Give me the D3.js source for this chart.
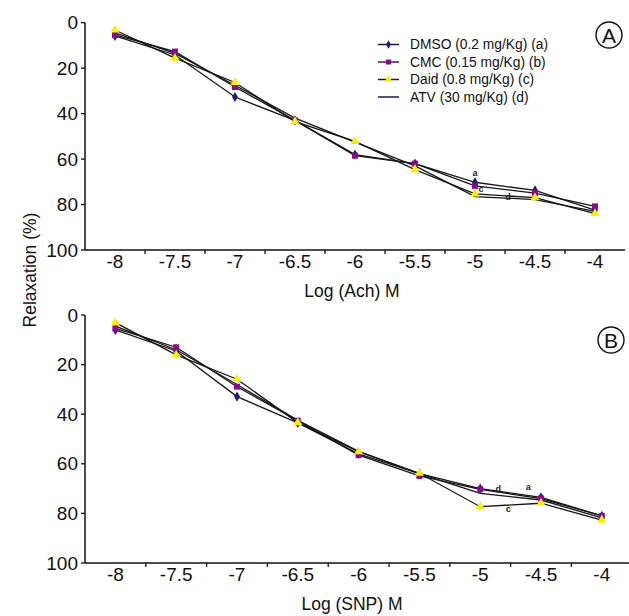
<!DOCTYPE html>
<html>
<head>
<meta charset="utf-8">
<script src="https://cdn.jsdelivr.net/npm/d3@7"></script>
<style>
  body { margin: 0; background: #fff; }
  svg { display: block; font-family: "Liberation Sans", Arial, sans-serif; }
</style>
</head>
<body>
<svg id="chart" width="629" height="616"></svg>
<script>
// log concentrations (category axis)
var doses = ["-8", "-7.5", "-7", "-6.5", "-6", "-5.5", "-5", "-4.5", "-4"];
var yTicks = [0, 20, 40, 60, 80, 100];

var seriesNames = ["DMSO (0.2 mg/Kg) (a)", "CMC (0.15 mg/Kg) (b)", "Daid (0.8 mg/Kg) (c)", "ATV (30 mg/Kg) (d)"];

// panel A - Ach
var dmsoA = [5.8, 14.2, 32.7, 43, 58, 62, 70.2, 73.8, 82.5];
var cmcA  = [5.4, 12.7, 28.3, 43, 58.5, 62, 71.8, 75, 80.8];
var daidA = [3.2, 15.6, 26.3, 43.5, 52.2, 64.6, 75.3, 77, 84];
var atvA  = [4.5, 13.5, 27.5, 42, 52.5, 63, 76.5, 77.8, 83];

// panel B - SNP
var dmsoB = [6.0, 14.5, 32.9, 43.5, 56, 64, 70, 73.5, 81];
var cmcB  = [5.4, 13.0, 28.9, 42.6, 56.5, 64.9, 70.3, 74, 81];
var daidB = [3.1, 16.1, 25.9, 43.4, 55.1, 63.8, 77.3, 75.9, 82.7];
var atvB  = [4.5, 14.0, 28, 42.5, 55, 64, 71.9, 74.6, 81.8];

// little letters next to the curves
var labelsA = [{t: "a", x: "-5", dx: 0, v: 67.5}, {t: "c", x: "-5", dx: 6, v: 74.5}, {t: "d", x: "-5", dx: 33, v: 78}];
var labelsB = [{t: "d", x: "-5", dx: 18, v: 71.5}, {t: "a", x: "-5", dx: 48, v: 70.5}, {t: "c", x: "-5", dx: 28, v: 79.5}];

var svg = d3.select("#chart");

var styles = [
  {fill: "#1c1c70", shape: d3.symbolDiamond, size: 30},
  {fill: "#8a0a8a", shape: d3.symbolSquare, size: 36},
  {fill: "#f7f000", shape: d3.symbolTriangle, size: 36},
  {fill: null}
];

function drawPanel(opts) {
  var x = d3.scaleBand().domain(doses).range([85, 85 + 9 * opts.bw]);
  var y = d3.scaleLinear().domain([0, 100]).range([opts.top, opts.bottom]);
  var g = svg.append("g");

  // y axis
  g.append("line").attr("x1", 85).attr("x2", 85)
    .attr("y1", y(0)).attr("y2", y(100))
    .attr("stroke", "#111").attr("stroke-width", 1.5);
  g.selectAll(".yt").data(yTicks).enter().append("line")
    .attr("x1", 81).attr("x2", 85)
    .attr("y1", d => y(d)).attr("y2", d => y(d))
    .attr("stroke", "#111").attr("stroke-width", 1.3);
  g.selectAll(".yl").data(yTicks).enter().append("text")
    .attr("x", 78).attr("y", d => y(d)).attr("dy", "0.35em")
    .attr("text-anchor", "end").attr("font-size", 19).attr("fill", "#111")
    .text(d => d);

  // x axis (ticks between categories)
  g.append("line").attr("x1", 85).attr("x2", x.range()[1])
    .attr("y1", y(100)).attr("y2", y(100))
    .attr("stroke", "#111").attr("stroke-width", 1.5);
  g.selectAll(".xt").data(doses.slice(1)).enter().append("line")
    .attr("x1", d => x(d)).attr("x2", d => x(d))
    .attr("y1", y(100)).attr("y2", y(100) + 4)
    .attr("stroke", "#111").attr("stroke-width", 1.3);
  g.selectAll(".xl").data(doses).enter().append("text")
    .attr("x", d => x(d) + x.bandwidth() / 2).attr("y", y(100) + 18)
    .attr("text-anchor", "middle").attr("font-size", 19).attr("fill", "#111")
    .text(d => d);

  g.append("text").attr("x", 352).attr("y", opts.titleY)
    .attr("text-anchor", "middle").attr("font-size", 17.5).attr("fill", "#111")
    .text(opts.title);

  var cx = d => x(d) + x.bandwidth() / 2;
  var line = d3.line().x((v, i) => cx(doses[i])).y(v => y(v));

  // lines, ATV first
  [3, 0, 1, 2].forEach(function(k) {
    g.append("path").datum(opts.series[k])
      .attr("d", line).attr("fill", "none")
      .attr("stroke", "#161616").attr("stroke-width", 1.3);
  });

  [0, 1, 2].forEach(function(k) {
    var st = styles[k];
    g.selectAll(".m" + k).data(opts.series[k]).enter().append("path")
      .attr("d", d3.symbol().type(st.shape).size(st.size))
      .attr("transform", (v, i) => "translate(" + cx(doses[i]) + "," + y(v) + ")")
      .attr("fill", st.fill);
  });

  g.selectAll(".lab").data(opts.labels).enter().append("text")
    .attr("x", d => cx(d.x) + d.dx).attr("y", d => y(d.v))
    .attr("text-anchor", "middle").attr("font-size", 9).attr("font-weight", "bold")
    .attr("fill", "#222").text(d => d.t);

  // circled panel letter
  g.append("circle").attr("cx", opts.letterX).attr("cy", opts.letterY).attr("r", 13)
    .attr("fill", "none").attr("stroke", "#111").attr("stroke-width", 1.4);
  g.append("text").attr("x", opts.letterX).attr("y", opts.letterY).attr("dy", "0.36em")
    .attr("text-anchor", "middle").attr("font-size", 21).attr("fill", "#111")
    .text(opts.letter);
}

drawPanel({
  top: 22.7, bottom: 250, bw: 60, title: "Log (Ach) M", titleY: 297,
  series: [dmsoA, cmcA, daidA, atvA], labels: labelsA,
  letter: "A", letterX: 609, letterY: 35
});

drawPanel({
  top: 315, bottom: 563, bw: 60.8, title: "Log (SNP) M", titleY: 610,
  series: [dmsoB, cmcB, daidB, atvB], labels: labelsB,
  letter: "B", letterX: 611, letterY: 340
});

// shared y title
svg.append("text")
  .attr("transform", "translate(36,270) rotate(-90)")
  .attr("text-anchor", "middle").attr("font-size", 17.5).attr("fill", "#111")
  .text("Relaxation (%)");

// legend
var legend = svg.append("g");
seriesNames.forEach(function(name, k) {
  var ly = 44.5 + k * 17.5;
  legend.append("line").attr("x1", 378).attr("x2", 399).attr("y1", ly).attr("y2", ly)
    .attr("stroke", k === 1 ? "#6a0a6a" : "#1a1a40").attr("stroke-width", 1.5);
  if (styles[k].fill) {
    legend.append("path")
      .attr("d", d3.symbol().type(styles[k].shape).size(styles[k].size * 0.7))
      .attr("transform", "translate(388.5," + ly + ")")
      .attr("fill", styles[k].fill);
  }
  legend.append("text").attr("x", 410).attr("y", ly).attr("dy", "0.35em")
    .attr("font-size", 13.8).attr("fill", "#111").text(name);
});
</script>
</body>
</html>
